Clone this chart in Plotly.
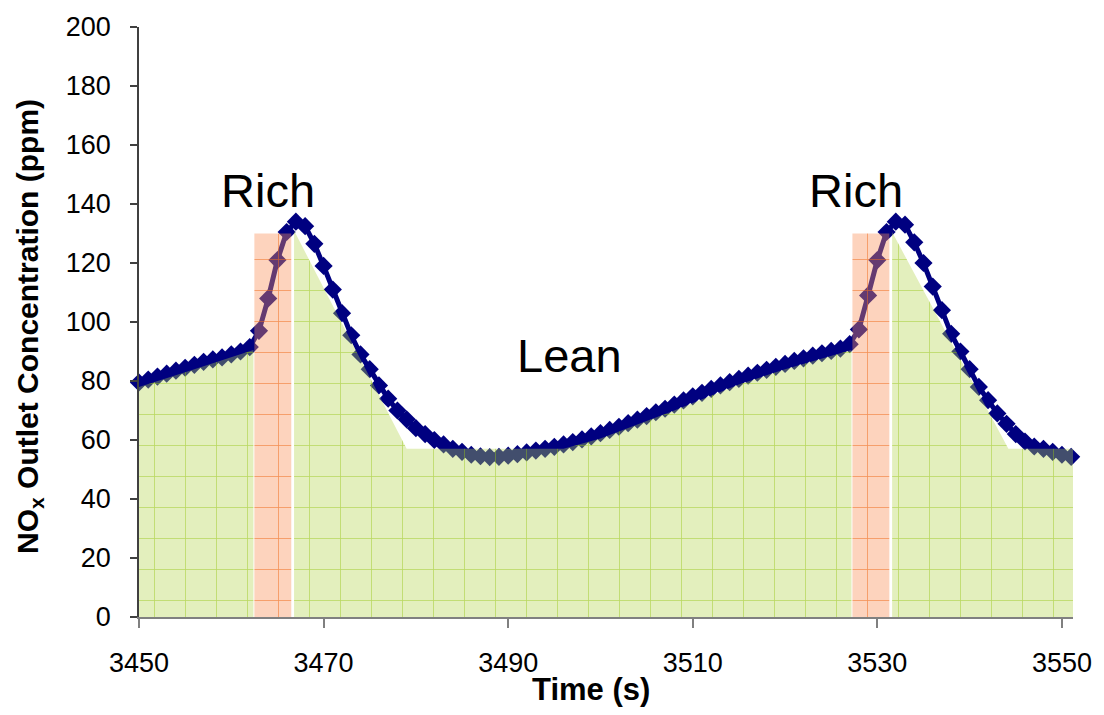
import plotly.graph_objects as go

# ---- data ----
time_s = [3450, 3451, 3452, 3453, 3454, 3455, 3456, 3457, 3458, 3459,
          3460, 3461, 3462, 3463, 3464, 3465, 3466, 3467, 3468, 3469,
          3470, 3471, 3472, 3473, 3474, 3475, 3476, 3477, 3478, 3479,
          3480, 3481, 3482, 3483, 3484, 3485, 3486, 3487, 3488, 3489,
          3490, 3491, 3492, 3493, 3494, 3495, 3496, 3497, 3498, 3499,
          3500, 3501, 3502, 3503, 3504, 3505, 3506, 3507, 3508, 3509,
          3510, 3511, 3512, 3513, 3514, 3515, 3516, 3517, 3518, 3519,
          3520, 3521, 3522, 3523, 3524, 3525, 3526, 3527, 3528, 3529,
          3530, 3531, 3532, 3533, 3534, 3535, 3536, 3537, 3538, 3539,
          3540, 3541, 3542, 3543, 3544, 3545, 3546, 3547, 3548, 3549,
          3550, 3551]
nox_ppm = [79.5, 80.5, 81.5, 82.5, 83.5, 84.5, 85.5, 86.5, 87.3, 88.0,
           89.0, 90.0, 91.5, 97.0, 108.0, 121.0, 130.5, 134.0, 132.5, 126.5,
           119.0, 111.0, 103.0, 95.5, 89.0, 84.0, 78.5, 74.0, 70.0, 67.0,
           64.0, 62.0, 60.0, 58.5, 57.0, 56.0, 55.0, 54.5, 54.2, 54.3,
           54.7, 55.2, 55.8, 56.4, 57.0, 57.7, 58.5, 59.3, 60.2, 61.2,
           62.3, 63.4, 64.5, 65.7, 66.9, 68.1, 69.4, 70.6, 72.0, 73.4,
           74.8, 76.0, 77.3, 78.5, 79.6, 80.7, 81.8, 82.8, 83.8, 84.8,
           85.8, 86.8, 87.7, 88.6, 89.4, 90.2, 91.0, 92.5, 97.5, 109.0,
           121.0, 130.5, 134.0, 133.0, 127.0, 120.0, 112.0, 104.0, 96.0, 90.0,
           84.0, 78.0, 73.5, 69.0, 65.5, 62.0, 59.5, 57.8, 57.0, 56.0,
           55.0, 54.3]

# shaded regions (lean = green, rich = orange)
lean1_t = [3450, 3450, 3455, 3462.4, 3462.4]
lean1_v = [0, 78, 83, 90.5, 0]
rich1_t = [3462.5, 3462.5, 3466.5, 3466.5]
rich1_v = [0, 130, 130, 0]
lean2_t = [3466.8, 3466.8, 3479, 3496, 3500, 3508, 3515, 3520, 3527.2, 3527.2]
lean2_v = [0, 131, 57, 57, 60.5, 70.0, 78.8, 84.0, 90.5, 0]
rich2_t = [3527.3, 3527.3, 3531.3, 3531.3]
rich2_v = [0, 130, 130, 0]
lean3_t = [3531.6, 3531.6, 3544.2, 3551.2, 3551.2]
lean3_v = [0, 130.5, 57, 57, 0]

x_ticks = [3450, 3470, 3490, 3510, 3530, 3550]
y_ticks = [0, 20, 40, 60, 80, 100, 120, 140, 160, 180, 200]

labels = [("Rich", 3464.0, 144.5), ("Rich", 3527.7, 144.5), ("Lean", 3496.6, 88.5)]

FONT = "Liberation Sans, Arial, sans-serif"

fig = go.Figure()

fig.add_trace(go.Scatter(
    x=time_s, y=nox_ppm, mode="lines+markers",
    line=dict(color="#000080", width=5),
    marker=dict(symbol="diamond", size=14, color="#000080"),
    cliponaxis=False, showlegend=False, hoverinfo="skip"))

green_pat = dict(shape="+", size=31, solidity=0.05,
                 fgcolor="rgba(150,195,20,0.55)",
                 bgcolor="rgba(178,212,75,0.37)", fillmode="replace")
orange_pat = dict(shape="+", size=31, solidity=0.05,
                  fgcolor="rgba(240,110,30,0.65)",
                  bgcolor="rgba(250,145,90,0.40)", fillmode="replace")

for tt, vv, pat in [(lean1_t, lean1_v, green_pat), (rich1_t, rich1_v, orange_pat),
                    (lean2_t, lean2_v, green_pat), (rich2_t, rich2_v, orange_pat),
                    (lean3_t, lean3_v, green_pat)]:
    fig.add_trace(go.Scatter(
        x=tt, y=vv, mode="lines", fill="toself", line=dict(width=0),
        fillcolor=pat["bgcolor"], fillpattern=pat,
        showlegend=False, hoverinfo="skip"))

for txt, xx, yy in labels:
    fig.add_annotation(x=xx, y=yy, xref="x", yref="y", text=txt, showarrow=False,
                       font=dict(family=FONT, size=47, color="black"),
                       xanchor="center", yanchor="middle")

fig.add_annotation(x=0.484, y=-0.123, xref="paper", yref="paper", text="<b>Time (s)</b>",
                   showarrow=False, font=dict(family=FONT, size=31, color="black"),
                   xanchor="center", yanchor="middle")
fig.add_annotation(x=-0.118, y=0.493, xref="paper", yref="paper",
                   text="<b>NO<sub>x</sub> Outlet Concentration (ppm)</b>",
                   showarrow=False, textangle=-90,
                   font=dict(family=FONT, size=30, color="black"),
                   xanchor="center", yanchor="middle")

fig.update_layout(
    width=1104, height=715,
    margin=dict(l=139, r=24, t=25, b=98),
    paper_bgcolor="white", plot_bgcolor="white",
    font=dict(family=FONT, color="black"),
    xaxis=dict(range=[3450, 3551.2], tickvals=x_ticks, ticks="outside", ticklen=9,
               tickwidth=2, tickcolor="#808080", showline=True, linecolor="#808080",
               linewidth=2, showgrid=False, zeroline=False,
               tickfont=dict(family=FONT, size=27, color="black"),
               ticklabelstandoff=12),
    yaxis=dict(range=[0, 200], tickvals=y_ticks, ticks="outside", ticklen=7,
               tickwidth=1.5, tickcolor="#404040", showline=True, linecolor="#404040",
               linewidth=1.5, showgrid=False, zeroline=False,
               tickfont=dict(family=FONT, size=27, color="black"),
               ticklabelstandoff=14),
)

fig.write_html("out.html")
